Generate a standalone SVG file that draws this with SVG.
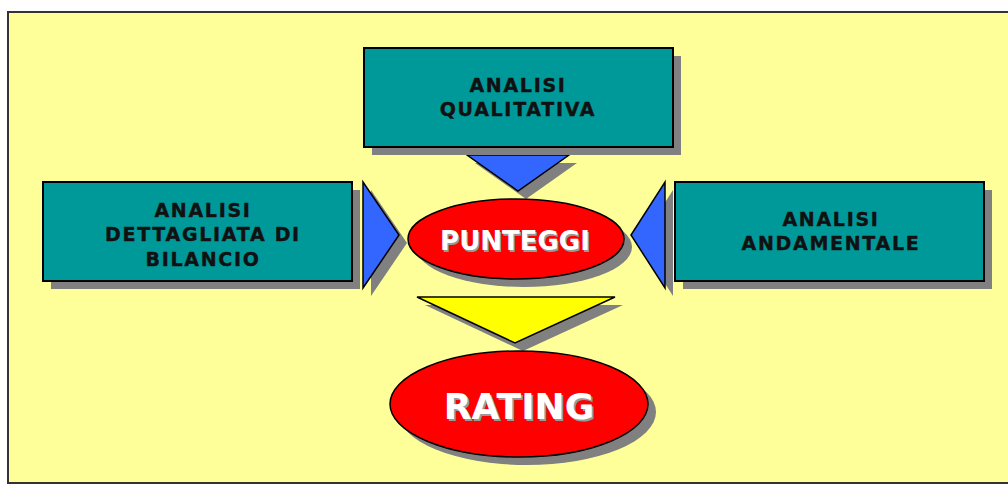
<svg xmlns="http://www.w3.org/2000/svg" width="1008" height="484" viewBox="0 0 1008 484">
<style>
.sh{fill:#808080}
.box{fill:#009999;stroke:#000;stroke-width:2}
.tri{fill:#3366FF;stroke:#000;stroke-width:1.5;stroke-linejoin:miter}
.ytri{fill:#FFFF00;stroke:#000;stroke-width:1.5}
.ell{fill:#FF0000;stroke:#000;stroke-width:1.5}
.bt{font-family:"DejaVu Sans",Verdana,sans-serif;font-weight:bold;font-size:19px;letter-spacing:1.7px;fill:#111;text-anchor:middle;stroke:#111;stroke-width:0.4}
.et{font-family:"DejaVu Sans",Verdana,sans-serif;font-weight:bold;fill:#fff;text-anchor:middle}
.ets{font-family:"DejaVu Sans",Verdana,sans-serif;font-weight:bold;fill:#999;text-anchor:middle}
</style>
<rect x="0" y="0" width="1008" height="484" fill="#fff"/>
<rect x="8" y="12" width="1010" height="471" fill="#FFFF99" stroke="#333" stroke-width="2"/>
<g id="connectors">
  <polygon class="sh" points="475,163 577,163 526,199"/>
  <polygon class="tri" points="467,155 569,155 518,191"/>
  <polygon class="sh" points="371,190 371,296 407,243"/>
  <polygon class="tri" points="363,182 363,288 399,235"/>
  <polygon class="sh" points="673,190 673,296 639,243"/>
  <polygon class="tri" points="665,182 665,288 631,235"/>
  <polygon class="sh" points="425,305 623,305 523,351"/>
  <polygon class="ytri" points="417,297 615,297 515,343"/>
</g>
<g id="node-qualitativa">
  <rect class="sh" x="372" y="56" width="309" height="99"/>
  <rect class="box" x="364" y="48" width="309" height="99"/>
  <text class="bt" x="518" y="92">ANALISI</text>
  <text class="bt" x="518" y="116">QUALITATIVA</text>
</g>
<g id="node-bilancio">
  <rect class="sh" x="51" y="190" width="309" height="99"/>
  <rect class="box" x="43" y="182" width="309" height="99"/>
  <text class="bt" x="203" y="217">ANALISI</text>
  <text class="bt" x="203" y="241">DETTAGLIATA DI</text>
  <text class="bt" x="203" y="266">BILANCIO</text>
</g>
<g id="node-andamentale">
  <rect class="sh" x="683" y="190" width="309" height="99"/>
  <rect class="box" x="675" y="182" width="309" height="99"/>
  <text class="bt" x="831" y="226">ANALISI</text>
  <text class="bt" x="831" y="250">ANDAMENTALE</text>
</g>
<g id="node-punteggi">
  <ellipse class="sh" cx="524" cy="247" rx="108" ry="40"/>
  <ellipse class="ell" cx="516" cy="239" rx="108" ry="40"/>
  <text class="ets" x="516.5" y="251.5" font-size="26">PUNTEGGI</text>
  <text class="et" x="515" y="250" font-size="26">PUNTEGGI</text>
</g>
<g id="node-rating">
  <ellipse class="sh" cx="527" cy="412" rx="129" ry="53"/>
  <ellipse class="ell" cx="519" cy="404" rx="129" ry="53"/>
  <text class="ets" x="521" y="421" font-size="36">RATING</text>
  <text class="et" x="519" y="419" font-size="36">RATING</text>
</g>
</svg>
